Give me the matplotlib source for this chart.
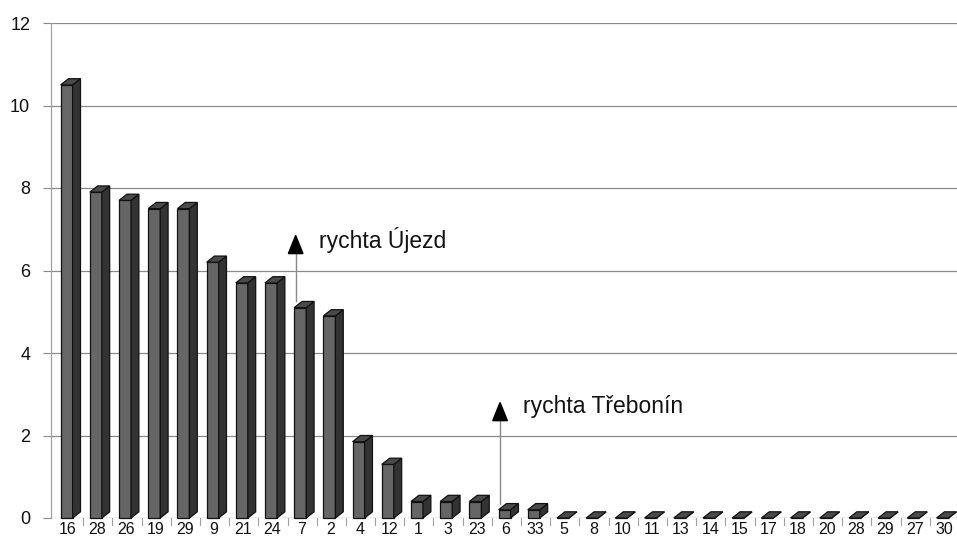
import matplotlib
matplotlib.use("Agg")
import matplotlib.pyplot as plt
from matplotlib.patches import Polygon

categories = ["16", "28", "26", "19", "29", "9", "21", "24", "7", "2", "4", "12",
              "1", "3", "23", "6", "33", "5", "8", "10", "11", "13", "14", "15",
              "17", "18", "20", "28", "29", "27", "30"]
values = [10.5, 7.9, 7.7, 7.5, 7.5, 6.2, 5.7, 5.7, 5.1, 4.9, 1.85, 1.3,
          0.4, 0.4, 0.4, 0.2, 0.2, 0, 0, 0, 0, 0, 0, 0,
          0, 0, 0, 0, 0, 0, 0]
yticks = [0, 2, 4, 6, 8, 10, 12]
annotations = [("rychta Újezd", 8, 6.85), ("rychta Třebonín", 15, 2.8)]

plt.rcParams['font.family'] = ['Liberation Sans', 'DejaVu Sans']

fig = plt.figure(figsize=(9.57, 5.4), dpi=100)
ax = fig.add_axes([51/957, 22/540, 1 - 51/957, (518-23)/540])
ax.set_xlim(-0.58, 30.45)
ax.set_ylim(0, 12)

# grid lines (back wall)
for t in yticks:
    ax.axhline(t, color='#8a8a8a', lw=0.9, zorder=0)

front_l, front_r, dx, dy = -0.25, 0.16, 0.27, 0.15
for i, v in enumerate(values):
    x0, x1 = i + front_l, i + front_r
    front = Polygon([(x0, 0), (x1, 0), (x1, v), (x0, v)], closed=True,
                    facecolor='#666666', edgecolor='#111111', lw=0.9, zorder=3)
    side = Polygon([(x1, 0), (x1 + dx, dy), (x1 + dx, v + dy), (x1, v)], closed=True,
                   facecolor='#333333', edgecolor='#111111', lw=0.9, zorder=3)
    top = Polygon([(x0, v), (x1, v), (x1 + dx, v + dy), (x0 + dx, v + dy)], closed=True,
                  facecolor='#4a4a4a', edgecolor='#111111', lw=0.9, zorder=3)
    for p in (front, side, top):
        p.set_clip_on(False)
        ax.add_patch(p)

# annotations
for text, idx, ytip in annotations:
    xa = idx - 0.2
    ybase = values[idx] + dy
    ax.plot([xa, xa], [ybase, ytip - 0.4], color='#8a8a8a', lw=1.0, zorder=4)
    tri = Polygon([(xa - 0.25, ytip - 0.44), (xa + 0.25, ytip - 0.44), (xa, ytip)],
                  closed=True, facecolor='black', edgecolor='black', zorder=5)
    ax.add_patch(tri)
    ax.text(xa + 0.8, ytip - 0.1, text, fontsize=16.5, ha='left', va='center', color='#111111')

for s in ['top', 'right', 'bottom']:
    ax.spines[s].set_visible(False)
ax.spines['left'].set_color('#a0a0a0')
ax.spines['left'].set_linewidth(0.9)

ax.set_yticks(yticks)
ax.set_yticklabels([str(t) for t in yticks], fontsize=13)
ax.tick_params(axis='y', length=6, color='#8a8a8a', pad=9, labelcolor='#111111')

ax.set_xticks(range(len(categories)))
ax.set_xticklabels(categories, fontsize=11.5)
ax.tick_params(axis='x', length=0, pad=3, labelcolor='#111111')
for i in range(len(categories)):
    ax.plot([i + 0.52, i + 0.52], [0, -0.18], color='#a0a0a0', lw=0.8, clip_on=False)

fig.savefig("out.png", dpi=100)
